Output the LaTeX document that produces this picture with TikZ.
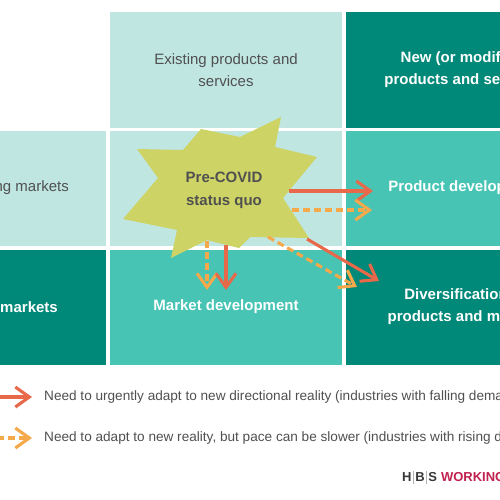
\documentclass[tikz,border=0pt]{standalone}
\usepackage{fontspec}
\setmainfont{Liberation Sans}
\usetikzlibrary{arrows.meta}
\definecolor{lightc}{HTML}{C0E6E2}
\definecolor{midc}{HTML}{47C4B4}
\definecolor{darkc}{HTML}{008878}
\definecolor{starc}{HTML}{CDD465}
\definecolor{redc}{HTML}{E8694A}
\definecolor{orc}{HTML}{F5A94A}
\definecolor{txt}{HTML}{505050}
\definecolor{hbsred}{HTML}{C1224F}
\tikzset{
  cell/.style={draw=none, minimum width=232pt, minimum height=115pt, inner sep=0pt},
  celltxt/.style={align=center, font=\fontsize{15}{22}\selectfont, inner sep=0pt},
  wtxt/.style={celltxt, text=white, font=\fontsize{15}{22}\selectfont\bfseries},
  gtxt/.style={celltxt, text=txt},
  solidarr/.style={draw=redc, line width=3.1pt, -{Straight Barb[length=14pt,width=20pt,line width=3.1pt]}},
  dasharr/.style={draw=orc, line width=3.1pt, dash pattern=on 7pt off 4pt, -{Straight Barb[length=14pt,width=20pt,line width=3.1pt]}},
  legtxt/.style={anchor=west, text=txt, font=\fontsize{13.6}{16}\selectfont, inner sep=0pt}
}
\begin{document}
\begin{tikzpicture}[x=1pt,y=-1pt]
\useasboundingbox (0,0) rectangle (500,500);
\fill[white] (0,0) rectangle (500,500);
\begin{scope}
\clip (0,0) rectangle (500,500);
% grid cells
\node[cell, fill=lightc] (c01) at (226,70) {};
\node[cell, fill=darkc] (c02) at (462,70) {};
\node[cell, fill=lightc] (c10) at (-10,188.5) {};
\node[cell, fill=lightc] (c11) at (226,188.5) {};
\node[cell, fill=midc] (c12) at (462,188.5) {};
\node[cell, fill=darkc] (c20) at (-10,307) {};
\node[cell, fill=midc] (c21) at (226,307) {};
\node[cell, fill=darkc] (c22) at (462,307) {};
% cell labels
\node[gtxt] (t01) at (226,70) {Existing products and\\services};
\node[wtxt] (t02) at (464,70) {New (or modified)\\products and services};
\node[gtxt, anchor=east] (t10) at (69,188) {Existing markets};
\node[wtxt] (t12) at (465,188) {Product development};
\node[wtxt, anchor=east] (t20) at (58,307) {New markets};
\node[wtxt] (t21) at (226,307) {Market development};
\node[wtxt] (t22) at (466,307) {\hspace*{-20pt}Diversification\\products and markets};
% star
\fill[starc] (137,149) -- (183,150) -- (201,129) -- (240,137) -- (281,117) -- (275,147)
  -- (317,157) -- (283,198) -- (309,238) -- (250,237) -- (239,248) -- (207,240)
  -- (171,258) -- (177,230) -- (123,219) -- (158,178) -- cycle;
\node[text=txt, align=center, font=\fontsize{15}{23}\selectfont\bfseries] (star) at (224,190) {Pre-COVID\\status quo};
% arrow endpoints
\coordinate (s1) at (289,191); \coordinate (e1) at (373,191);
\coordinate (s2) at (292,210); \coordinate (e2) at (372,210);
\coordinate (s3) at (207,241); \coordinate (e3) at (207,290);
\coordinate (s4) at (226,245); \coordinate (e4) at (226,290);
\coordinate (s5) at (307,239); \coordinate (e5) at (379,281);
\coordinate (s6) at (268,237); \coordinate (e6) at (357,287);
\draw[solidarr] (s1) -- (e1);
\draw[dasharr] (s2) -- (e2);
\draw[dasharr] (s3) -- (e3);
\draw[solidarr] (s4) -- (e4);
\draw[solidarr] (s5) -- (e5);
\draw[dasharr] (s6) -- (e6);
% legend
\coordinate (l1s) at (-5,397); \coordinate (l1e) at (32,397);
\coordinate (l2s) at (-3,438); \coordinate (l2e) at (32,438);
\draw[solidarr] (l1s) -- (l1e);
\draw[dasharr] (l2s) -- (l2e);
\node[legtxt] (leg1) at (44,397) {Need to urgently adapt to new directional reality (industries with falling demand)};
\node[legtxt] (leg2) at (44,438) {Need to adapt to new reality, but pace can be slower (industries with rising demand)};
% logo
\node[anchor=west, inner sep=0pt, font=\fontsize{13}{15}\selectfont\bfseries] (logo) at (402,477)
  {\textcolor{txt!70!black}{H\hspace{1.5pt}\textcolor{gray!60}{\rule[-2pt]{0.7pt}{13pt}}\hspace{1.5pt}B\hspace{1.5pt}\textcolor{gray!60}{\rule[-2pt]{0.7pt}{13pt}}\hspace{1.5pt}S}\hspace{4pt}\textcolor{hbsred}{WORKING KNOWLEDGE}};
\end{scope}
\end{tikzpicture}
\end{document}
